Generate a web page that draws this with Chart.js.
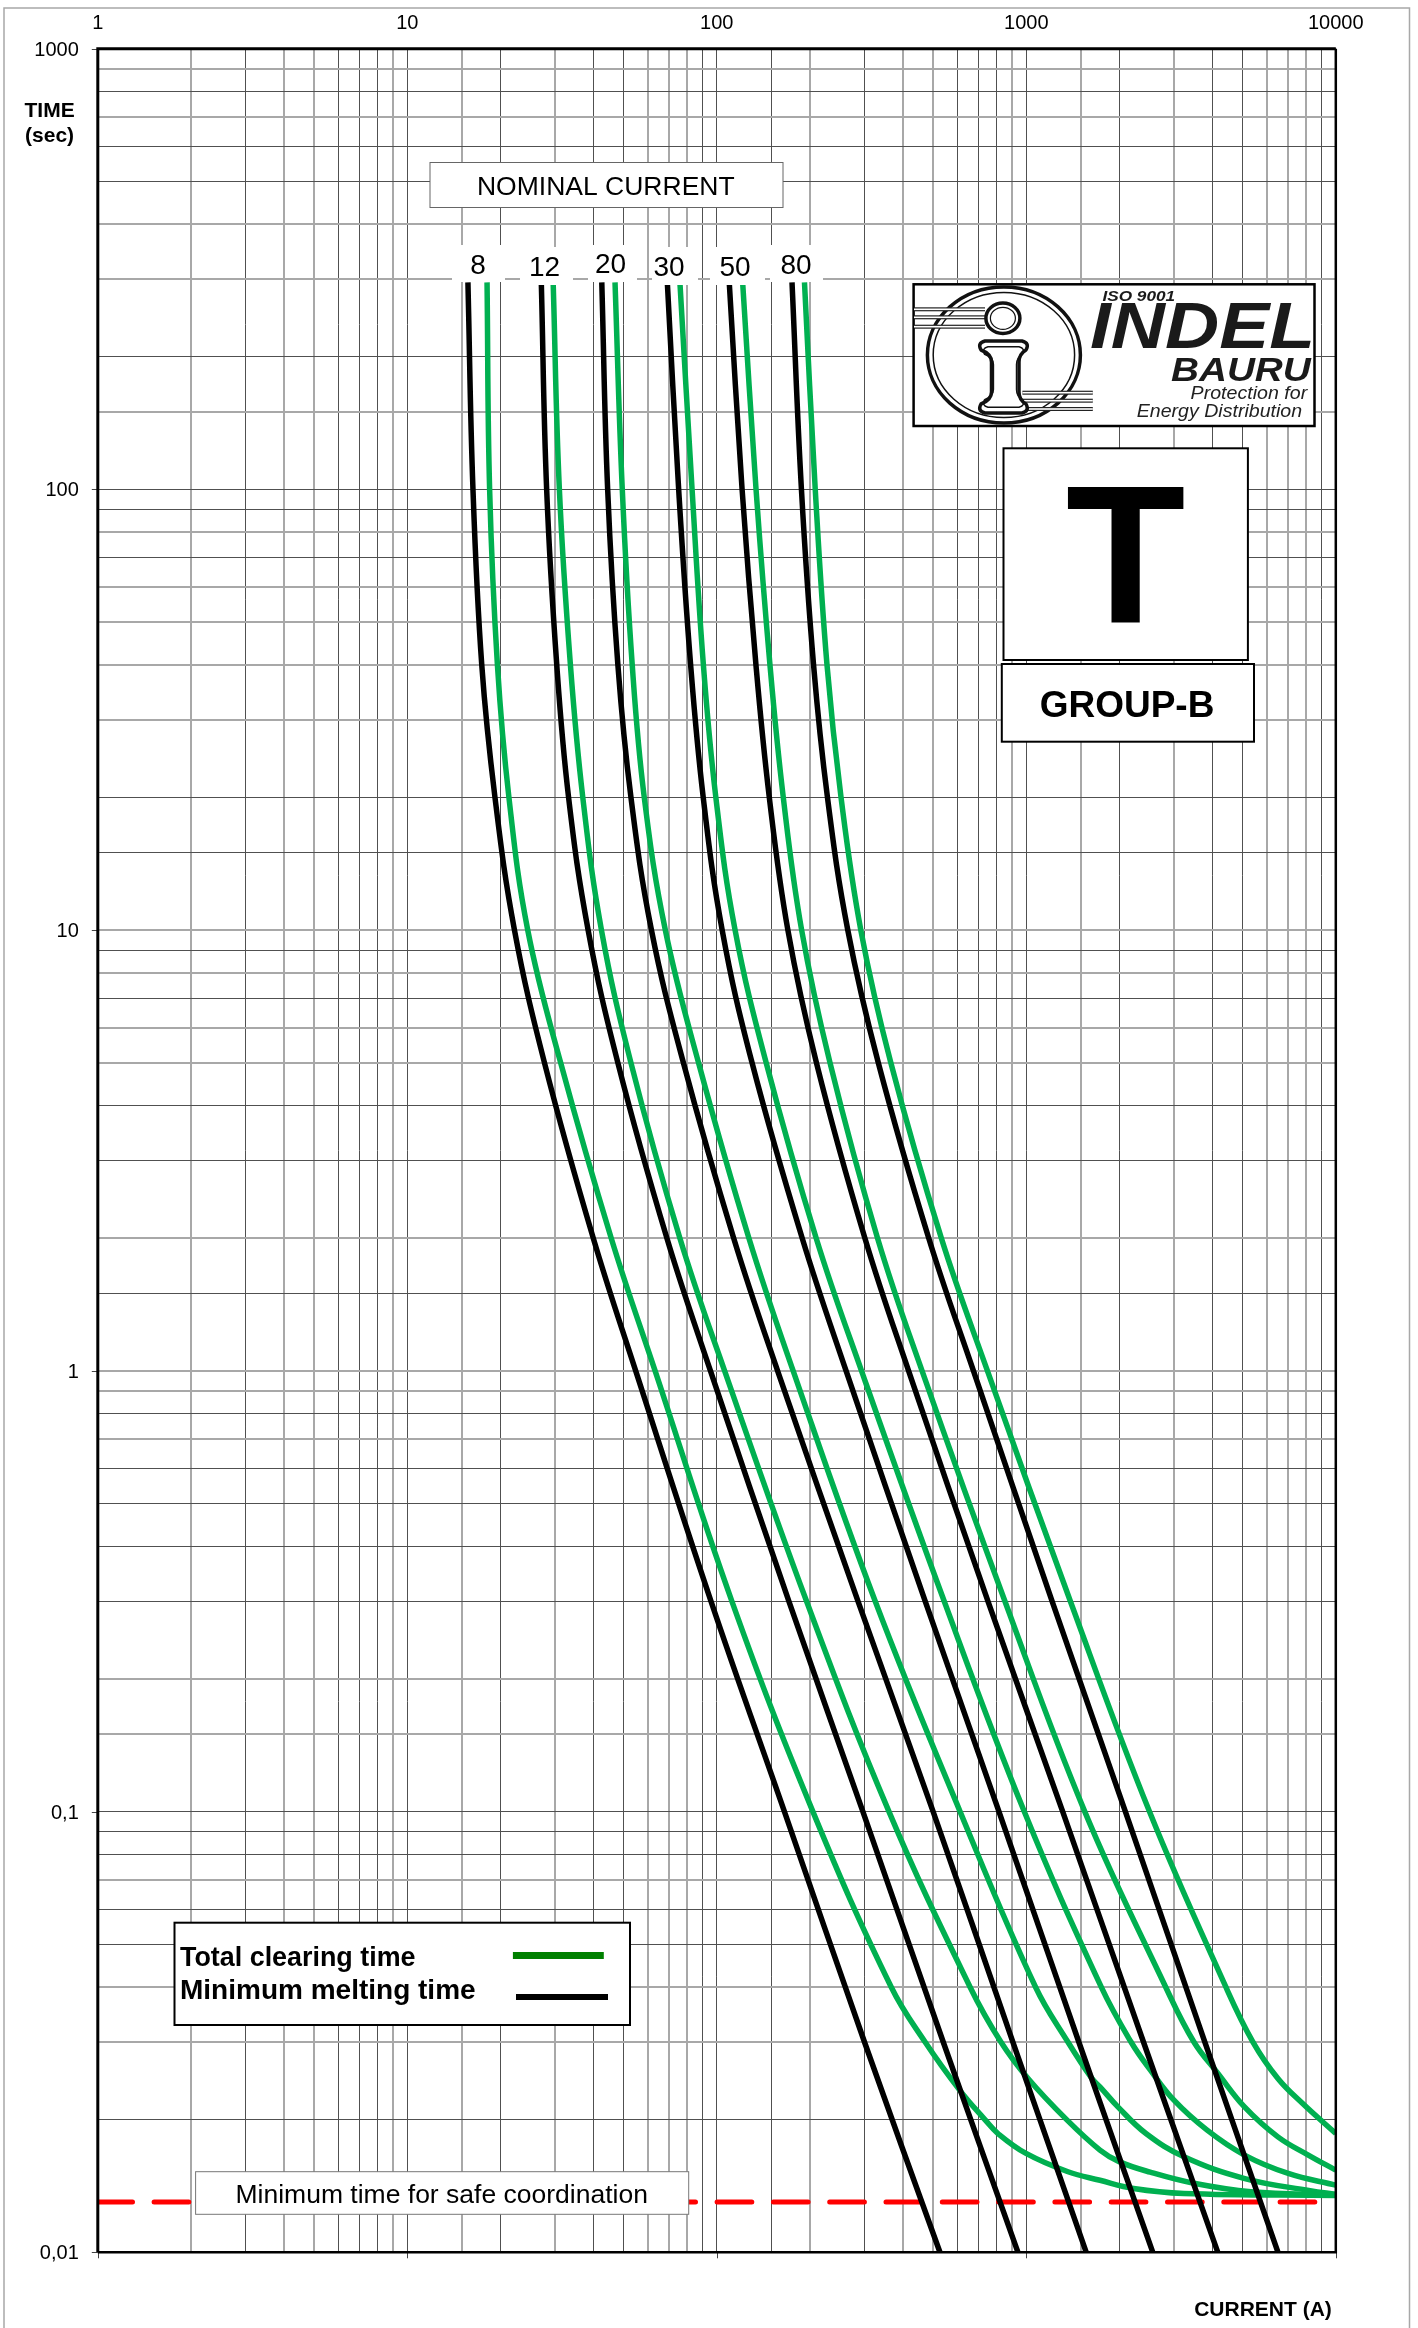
<!DOCTYPE html>
<html>
<head>
<meta charset="utf-8">
<title>Group-B T fuse links</title>
<style>
html, body { margin: 0; padding: 0; background: #fff; }
canvas { display: block; }
</style>
<script src="https://cdn.jsdelivr.net/npm/chart.js@4/dist/chart.umd.min.js"></script>
</head>
<body>
<canvas id="grafico" width="1418" height="2328"></canvas>
<script>
// axis ticks
var xTickValues = [1, 10, 100, 1000, 10000];
var xTickLabels = ["1", "10", "100", "1000", "10000"];
var yTickValues = [1000, 100, 10, 1, 0.1, 0.01];
var yTickLabels = ["1000", "100", "10", "1", "0,1", "0,01"];

var nominalLabels = ["8", "12", "20", "30", "50", "80"];

// minimum melting time: current (A) at each time (s)
var meltTimes = [295, 100, 40, 20, 10, 5, 2, 1, 0.3, 0.1, 0.03, 0.01];
var melt8 = [15.7, 16.3, 17.4, 19.2, 22.2, 27.75, 39.9, 54.7, 95.8, 165.4, 300, 526];
var melt12 = [27.1, 28.2, 30.4, 33.2, 38.4, 47.9, 69, 95.4, 171, 296.5, 539, 940];
var melt20 = [42.5, 44.4, 47.9, 52.8, 61.5, 78, 113.4, 157.2, 286, 500, 905, 1562];
var melt30 = [69.2, 75.3, 82.3, 90.4, 104.1, 130, 188.8, 261.7, 471.5, 816, 1478, 2563];
var melt50 = [109.7, 120.7, 133.8, 147.8, 169.7, 209.9, 301, 416.6, 752, 1311, 2391, 4157];
var melt80 = [175, 187.7, 205.4, 227.8, 265, 332.5, 484, 675, 1212, 2090, 3775, 6505];

// total clearing time, upper part shared
var clearTimes = [295, 100, 40, 20, 10, 5, 2, 1, 0.3, 0.1, 0.04];
var clear8 = [18.1, 18.45, 19.55, 21.3, 24.5, 31.3, 45.6, 63.2, 111.9, 204.4, 366];
var clear12 = [29.6, 31, 33.65, 36.9, 42.4, 52.8, 76, 106, 195, 360, 658];
var clear20 = [46.9, 49.5, 53.3, 58.3, 68.2, 87.3, 127, 176.5, 325, 611, 1071];
var clear30 = [76, 83.2, 90.5, 99.3, 114.6, 144.4, 209.5, 293.5, 543, 985, 1746];
var clear50 = [121.2, 133.9, 148.5, 164, 188, 232.2, 330.7, 460.5, 853, 1545, 2820];
var clear80 = [192, 208, 227, 252, 292, 365, 531.5, 749, 1388, 2500, 4413];

// tails of the clearing curves, where they flatten towards the right edge
var tail8T = [0.03, 0.0233, 0.02, 0.0186, 0.01676, 0.01523, 0.01457, 0.01396, 0.0136, 0.01345];
var tail8I = [471, 610, 735, 810, 998, 1364, 1730, 2222, 3232, 10000];
var tail12T = [0.03, 0.0248, 0.02, 0.01706, 0.01606, 0.0152, 0.01434, 0.01372, 0.01348];
var tail12I = [828, 1013, 1350, 1730, 1995, 2512, 3480, 5320, 10000];
var tail20T = [0.03, 0.0248, 0.02374, 0.02138, 0.0186, 0.01647, 0.0147, 0.0138, 0.01355];
var tail20I = [1363, 1628, 1730, 1977, 2436, 3232, 5082, 8260, 10000];
var tail30T = [0.03, 0.0259, 0.02214, 0.01893, 0.01662, 0.0151, 0.0142];
var tail30I = [2180, 2518, 3000, 3840, 5070, 7020, 10000];
var tail50T = [0.03, 0.02547, 0.02138, 0.01828, 0.01662, 0.01536];
var tail50I = [3480, 4160, 5070, 6500, 8150, 10000];
var tail80T = [0.03, 0.0248, 0.02178, 0.0186];
var tail80I = [5400, 6500, 7800, 10000];

// minimum time for safe coordination
var safeCurrents = [1, 10000];
var safeTimes = [0.013, 0.013];

var FONT = '"Liberation Sans", Arial, sans-serif';

function pontos(correntes, tempos) {
    var r = [];
    for (var i = 0; i < correntes.length; i++) r.push({ x: correntes[i], y: tempos[i] });
    return r;
}

function curvaMelt(correntes) {
    return {
        label: "Minimum melting time",
        data: pontos(correntes, meltTimes),
        borderColor: "#000000",
        borderWidth: 5.5,
        order: 1
    };
}

function curvaClear(correntes, tailT, tailI) {
    return {
        label: "Total clearing time",
        data: pontos(correntes, clearTimes).concat(pontos(tailI, tailT)),
        borderColor: "#00B050",
        borderWidth: 5.5,
        order: 2
    };
}

// lines that land between two pixels look wider and paler in the scan
function entrePixels(ctx) {
    if (!ctx.tick) return false;
    var p = ctx.scale.getPixelForValue(ctx.tick.value);
    var f = p - Math.floor(p);
    return f < 0.2 || f > 0.8;
}

var gridOptions = {
    drawTicks: false,
    color: function (ctx) { return entrePixels(ctx) ? "#a8a8a8" : "#505050"; },
    lineWidth: function (ctx) { return entrePixels(ctx) ? 2 : 1; }
};

function caixa(c, x, y, w, h, cor, esp) {
    c.fillStyle = "#ffffff";
    c.fillRect(x, y, w, h);
    c.strokeStyle = cor;
    c.lineWidth = esp;
    c.strokeRect(x, y, w, h);
}

function texto(c, s, x, y, font, align) {
    c.font = font;
    c.fillStyle = "#000000";
    c.textAlign = align || "center";
    c.textBaseline = "middle";
    c.fillText(s, x, y);
}

// text stretched to an exact width, for the logo lettering and the legend
function textoLargura(c, s, x, yBase, font, largura, cor) {
    c.save();
    c.font = font;
    c.fillStyle = cor;
    c.textAlign = "left";
    c.textBaseline = "alphabetic";
    var m = c.measureText(s).width;
    c.translate(x, yBase);
    c.scale(largura / m, 1);
    c.fillText(s, 0, 0);
    c.restore();
}

function corpoI(c, k) {
    var cx = 1003.5, cy = 377;
    function X(x) { return cx + (x - cx) * k; }
    function Y(y) { return cy + (y - cy) * k; }
    c.beginPath();
    c.moveTo(X(985), Y(341));
    c.lineTo(X(1022), Y(341));
    c.quadraticCurveTo(X(1030), Y(343), X(1026), Y(350));
    c.quadraticCurveTo(X(1019), Y(354), X(1019), Y(362));
    c.lineTo(X(1019), Y(392));
    c.quadraticCurveTo(X(1019), Y(400), X(1026), Y(404));
    c.quadraticCurveTo(X(1030), Y(411), X(1022), Y(413));
    c.lineTo(X(985), Y(413));
    c.quadraticCurveTo(X(977), Y(411), X(981), Y(404));
    c.quadraticCurveTo(X(991.5), Y(400), X(991.5), Y(392));
    c.lineTo(X(991.5), Y(362));
    c.quadraticCurveTo(X(991.5), Y(354), X(981), Y(350));
    c.quadraticCurveTo(X(977), Y(343), X(985), Y(341));
    c.closePath();
}

function logo(c) {
    caixa(c, 913.6, 284.3, 400.9, 141.7, "#000000", 2.5);

    c.strokeStyle = "#111111";
    c.lineWidth = 3.5;
    c.beginPath(); c.ellipse(1003.9, 355, 76.5, 68, 0, 0, Math.PI * 2); c.stroke();
    c.lineWidth = 1.5;
    c.beginPath(); c.ellipse(1003.9, 355, 70.7, 62.5, 0, 0, Math.PI * 2); c.stroke();

    // the three stripes on each side
    var faixas = [[914, 985, 309.3], [914, 985, 317.3], [914, 985, 326.7], [1022.4, 1092.8, 392.7], [1022.4, 1092.8, 400.7], [1022.4, 1092.8, 409]];
    faixas.forEach(function (f) {
        c.fillStyle = "#222222";
        c.fillRect(f[0], f[2] - 2, f[1] - f[0], 4);
        c.fillStyle = "#ffffff";
        c.fillRect(f[0], f[2] - 0.8, f[1] - f[0], 1.6);
    });

    c.fillStyle = "#ffffff";
    c.lineWidth = 3.5;
    c.beginPath(); c.ellipse(1002.9, 318.3, 17, 15.2, 0, 0, Math.PI * 2); c.fill(); c.stroke();
    c.lineWidth = 1.2;
    c.beginPath(); c.ellipse(1002.9, 318.3, 12.5, 11, 0, 0, Math.PI * 2); c.stroke();

    c.lineJoin = "round";
    c.lineWidth = 3.5;
    corpoI(c, 1); c.fill(); c.stroke();
    c.lineWidth = 1.5;
    corpoI(c, 0.84); c.stroke();
    c.lineJoin = "miter";

    textoLargura(c, "ISO 9001", 1102.4, 300.7, "italic bold 14px " + FONT, 72.7, "#1a1a1a");
    textoLargura(c, "INDEL", 1090, 348, "italic bold 64px " + FONT, 225, "#1a1a1a");
    textoLargura(c, "BAURU", 1171, 380.7, "italic bold 33px " + FONT, 139.7, "#1a1a1a");
    textoLargura(c, "Protection for", 1190.6, 399.3, "italic 19px " + FONT, 116.6, "#222222");
    textoLargura(c, "Energy Distribution", 1136.7, 417.3, "italic 19px " + FONT, 165.4, "#222222");
}

// white patches behind the nominal current numbers [left, right, top, bottom, label x, label y]
var rotulosBox = [
    [452, 505, 245, 282, 478, 266.5],
    [520, 573, 247, 285, 544.5, 268.5],
    [588, 637, 245, 282, 610.6, 265.5],
    [652, 698, 247, 285, 669, 268.5],
    [710, 765, 247, 285, 735, 268.5],
    [770, 823, 245, 282, 796, 266.5]
];

var folha = {
    id: "folha",
    beforeDraw: function (chart) {
        var c = chart.ctx;
        c.save();
        c.fillStyle = "#ffffff";
        c.fillRect(0, 0, chart.width, chart.height);
        c.strokeStyle = "#a8a8a8";
        c.lineWidth = 1.5;
        c.beginPath();
        c.moveTo(4, 2328); c.lineTo(4, 8); c.lineTo(1409.5, 8); c.lineTo(1409.5, 2328);
        c.stroke();
        c.restore();
    },
    afterDatasetsDraw: function (chart) {
        var c = chart.ctx, a = chart.chartArea;
        var sx = chart.scales.x, sy = chart.scales.y;
        c.save();

        // tick marks at the decades
        c.strokeStyle = "#444444";
        c.lineWidth = 1;
        xTickValues.forEach(function (v) {
            var p = Math.round(sx.getPixelForValue(v)) + 0.5;
            c.beginPath(); c.moveTo(p, a.bottom); c.lineTo(p, a.bottom + 6); c.stroke();
        });
        yTickValues.forEach(function (v) {
            var p = Math.round(sy.getPixelForValue(v)) + 0.5;
            c.beginPath(); c.moveTo(a.left - 6, p); c.lineTo(a.left, p); c.stroke();
        });

        // frame
        c.strokeStyle = "#000000";
        c.lineWidth = 3;
        c.beginPath();
        c.moveTo(a.left, a.bottom); c.lineTo(a.left, a.top); c.lineTo(a.right, a.top);
        c.stroke();
        c.lineWidth = 2.5;
        c.beginPath();
        c.moveTo(a.right, a.top); c.lineTo(a.right, a.bottom); c.lineTo(a.left, a.bottom);
        c.stroke();

        // nominal current numbers
        rotulosBox.forEach(function (b, i) {
            c.fillStyle = "#ffffff";
            c.fillRect(b[0], b[2], b[1] - b[0], b[3] - b[2]);
            texto(c, nominalLabels[i], b[4], b[5], "28px " + FONT);
        });

        caixa(c, 430, 162.5, 353, 45, "#666666", 1);
        texto(c, "NOMINAL CURRENT", 605.8, 187.5, "26.5px " + FONT);

        logo(c);

        caixa(c, 1003.5, 448.3, 244.4, 211.7, "#000000", 2);
        texto(c, "T", 1125.7, 568.5, "bold 196px " + FONT);
        caixa(c, 1001.8, 664, 252.2, 77.7, "#000000", 2);
        texto(c, "GROUP-B", 1127, 707, "bold 37px " + FONT);

        // legend
        caixa(c, 174.5, 1922.7, 455.5, 102.3, "#000000", 2);
        textoLargura(c, "Total clearing time", 180, 1966, "bold 28px " + FONT, 235.5, "#000000");
        textoLargura(c, "Minimum melting time", 180, 1998.5, "bold 28px " + FONT, 295.6, "#000000");
        c.fillStyle = "#008000";
        c.fillRect(512.9, 1952, 90.9, 7);
        c.fillStyle = "#000000";
        c.fillRect(516, 1994, 92, 6);

        caixa(c, 195.6, 2171.7, 493.1, 42.6, "#777777", 1);
        texto(c, "Minimum time for safe coordination", 441.7, 2195.5, "26.5px " + FONT);

        texto(c, "TIME", 49.6, 111, "bold 21px " + FONT);
        texto(c, "(sec)", 49.6, 136, "bold 21px " + FONT);
        texto(c, "CURRENT (A)", 1263, 2310, "bold 21px " + FONT);

        c.restore();
    }
};

var ctx = document.getElementById("grafico");

var chartGraph = new Chart(ctx, {
    type: "scatter",
    data: {
        datasets: [
            curvaMelt(melt8), curvaMelt(melt12), curvaMelt(melt20),
            curvaMelt(melt30), curvaMelt(melt50), curvaMelt(melt80),
            curvaClear(clear8, tail8T, tail8I), curvaClear(clear12, tail12T, tail12I),
            curvaClear(clear20, tail20T, tail20I), curvaClear(clear30, tail30T, tail30I),
            curvaClear(clear50, tail50T, tail50I), curvaClear(clear80, tail80T, tail80I),
            {
                label: "Minimum time for safe coordination",
                data: pontos(safeCurrents, safeTimes),
                borderColor: "#FF0000",
                borderWidth: 5,
                borderDash: [34.7, 21.6],
                borderCapStyle: "round",
                tension: 0,
                order: 3
            }
        ]
    },
    options: {
        responsive: false,
        animation: false,
        showLine: true,
        elements: {
            point: { radius: 0 },
            line: { tension: 0.4, fill: false }
        },
        layout: {
            autoPadding: false,
            padding: { left: 0, top: 0, right: 82.2, bottom: 75.7 }
        },
        plugins: {
            legend: { display: false },
            tooltip: { enabled: false }
        },
        scales: {
            x: {
                type: "logarithmic",
                position: "top",
                min: 1,
                max: 10000,
                grid: gridOptions,
                border: { display: false },
                afterFit: function (s) { s.height = 48.7; },
                ticks: {
                    autoSkip: false,
                    maxRotation: 0,
                    padding: 13,
                    color: "#000000",
                    font: { family: FONT, size: 20 },
                    callback: function (v) {
                        for (var i = 0; i < xTickValues.length; i++)
                            if (Math.abs(v - xTickValues[i]) < xTickValues[i] * 1e-6) return xTickLabels[i];
                        return "";
                    }
                }
            },
            y: {
                type: "logarithmic",
                position: "left",
                min: 0.01,
                max: 1000,
                grid: gridOptions,
                border: { display: false },
                afterFit: function (s) { s.width = 97.8; },
                ticks: {
                    autoSkip: false,
                    padding: 19,
                    labelOffset: 1.5,
                    color: "#000000",
                    font: { family: FONT, size: 20 },
                    callback: function (v) {
                        for (var i = 0; i < yTickValues.length; i++)
                            if (Math.abs(v - yTickValues[i]) < yTickValues[i] * 1e-6) return yTickLabels[i];
                        return "";
                    }
                }
            }
        }
    },
    plugins: [folha]
});
</script>
</body>
</html>
